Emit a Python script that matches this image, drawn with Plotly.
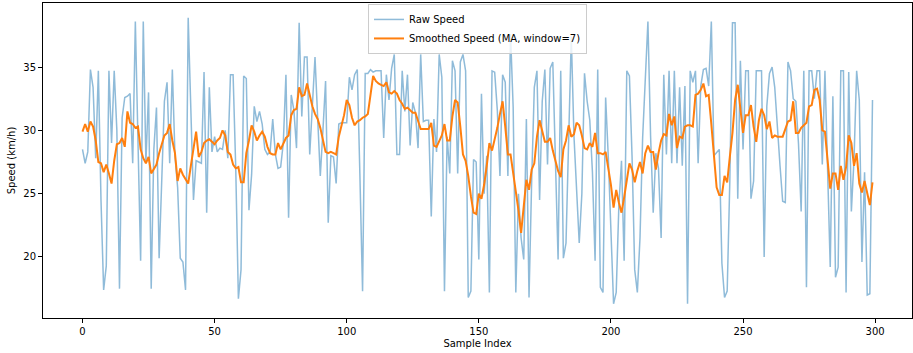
import plotly.graph_objects as go

# Raw speed samples (km/h)
raw_speed = [
    28.5, 27.4, 28.3, 34.8, 33.4, 27.8, 34.7, 24.5, 17.4, 19.3,
    34.7, 29.0, 34.7, 30.0, 17.5, 31.0, 32.6, 32.7, 32.9, 27.4,
    38.6, 28.0, 19.7, 38.6, 27.5, 33.0, 17.5, 28.5, 31.8, 19.9,
    27.0, 32.3, 33.8, 27.4, 34.8, 28.0, 25.5, 19.9, 19.6, 17.4,
    38.9, 31.0, 24.5, 27.6, 27.5, 27.4, 34.6, 23.5, 33.4, 28.3,
    29.5, 28.3, 28.6, 28.5, 30.0, 27.8, 34.4, 34.4, 27.0, 16.7,
    19.0, 34.3, 34.1, 23.7, 26.5, 31.9, 30.7, 31.5, 30.5, 28.5,
    28.1, 28.3, 30.9, 28.1, 27.0, 27.1, 29.0, 34.4, 23.1, 32.8,
    31.6, 28.6, 38.5, 31.1, 35.8, 35.8, 28.1, 32.5, 35.8, 31.0,
    26.4, 30.0, 33.9, 22.7, 28.0, 27.9, 25.8, 30.5, 30.6, 30.6,
    30.6, 34.2, 33.2, 34.4, 34.8, 26.4, 17.3, 34.5, 34.5, 34.8,
    34.6, 34.7, 34.7, 34.7, 29.4, 34.4, 32.4, 34.9, 36.0, 28.1,
    28.1, 34.7, 31.5, 34.4, 28.8, 32.2, 31.4, 28.6, 36.0, 30.7,
    30.8, 30.8, 23.2, 30.9, 28.3, 36.0, 34.2, 17.3, 29.5, 26.6,
    35.5, 34.7, 26.6, 35.4, 36.0, 34.7, 16.8, 17.3, 27.7, 27.5,
    19.8, 32.9, 25.0, 28.0, 17.2, 34.7, 34.6, 31.6, 26.4, 34.4,
    33.8, 26.4, 37.6, 31.8, 17.2, 25.0, 21.5, 19.8, 30.9, 16.8,
    26.0, 33.4, 34.7, 24.5, 32.3, 34.8, 27.3, 34.9, 35.4, 27.6,
    19.8, 34.7, 19.9, 21.1, 30.0, 37.4, 29.6, 25.8, 21.1, 25.0,
    34.5, 32.3, 30.8, 26.7, 19.7, 34.8, 17.6, 17.2, 32.6, 27.9,
    22.0, 16.3, 17.2, 24.0, 27.6, 19.7, 34.7, 34.3, 27.9, 19.0,
    17.2, 21.5, 29.4, 34.0, 38.6, 29.6, 23.5, 28.2, 27.0, 21.5,
    34.4, 28.1, 34.7, 27.4, 34.7, 27.4, 33.4, 27.2, 33.5, 16.3,
    34.7, 33.8, 34.7, 27.4, 33.5, 34.8, 34.9, 33.5, 38.6, 28.0,
    28.3, 28.5, 19.5, 16.8, 17.3, 26.0, 38.5, 38.5, 24.6, 35.5,
    28.5, 34.7, 34.7, 24.6, 26.0, 34.7, 34.7, 34.7, 20.0, 31.9,
    34.5, 35.0, 33.4, 29.8, 27.2, 24.4, 24.3, 35.4, 34.7, 32.5,
    32.3, 28.9, 23.6, 34.7, 17.6, 34.7, 34.7, 32.5, 34.7, 34.7,
    27.3, 34.7, 27.0, 19.2, 32.7, 18.4, 19.2, 34.7, 34.7, 17.2,
    34.6, 23.6, 27.7, 34.7, 32.4, 19.6, 26.7, 17.0, 17.1, 32.4,
]

# Smoothed speed (moving average, window 7)
smoothed_speed = [
    29.9, 30.5, 29.9, 30.7, 30.3, 29.2, 27.5, 27.4, 26.7, 27.3,
    26.6, 25.8, 27.6, 28.9, 29.0, 29.4, 28.7, 31.5, 30.6, 30.5,
    30.2, 30.3, 28.5, 27.8, 27.4, 27.9, 26.6, 27.0, 27.3, 28.2,
    29.0, 29.6, 29.8, 30.5, 29.2, 28.2, 26.0, 27.0, 26.5, 26.2,
    25.8, 27.2, 28.7, 29.9, 27.9, 28.3, 29.0, 29.2, 29.3, 29.1,
    28.9, 29.2, 29.4, 30.0, 29.6, 28.3, 28.1, 27.3, 27.0, 27.1,
    25.9, 25.9, 28.2, 29.2, 30.4, 29.9, 29.2, 29.6, 29.9, 29.5,
    28.7, 28.2, 28.1, 28.1, 29.0, 28.5, 29.0, 29.4, 29.6, 31.2,
    31.6, 31.7, 33.4, 32.7, 32.8, 33.7, 32.8, 31.9, 31.3, 30.9,
    30.2, 29.2, 28.3, 28.2, 28.3, 28.2, 28.1, 29.5, 30.3, 31.2,
    32.4, 32.0, 31.0, 30.4, 30.7, 30.8, 31.0, 31.1, 31.3, 32.8,
    34.3, 33.9, 33.7, 33.6, 33.5, 33.8, 33.0, 32.9, 33.1, 32.9,
    32.4, 32.1, 31.7, 31.8, 31.6, 31.4, 31.4, 30.8, 30.1, 30.1,
    30.1, 30.1, 30.6, 28.8, 28.7, 29.1, 29.6, 30.5, 29.2, 29.2,
    31.1, 32.4, 32.2, 30.3, 28.1, 27.6, 26.4, 24.8, 23.5, 23.4,
    25.0, 24.6, 25.7, 27.2, 29.0, 28.4, 29.2, 30.2, 31.3, 32.3,
    30.3, 28.1, 28.1, 26.6, 25.4, 23.7, 21.9, 24.3, 26.1, 25.3,
    26.9, 27.4, 29.5, 30.8, 29.9, 29.1, 29.1, 29.4, 28.4, 27.6,
    26.8, 26.3, 28.5, 29.2, 30.4, 29.5, 29.7, 30.6, 30.4, 29.6,
    28.6, 28.5, 29.0, 28.7, 29.8, 28.2, 28.2, 28.1, 28.3, 27.0,
    25.7, 23.9, 25.3, 24.3, 23.5, 24.7, 26.1, 27.4, 26.9, 25.9,
    26.8, 27.5, 26.6, 28.2, 28.8, 28.3, 28.3, 26.9, 28.2, 29.2,
    29.7, 29.6, 31.3, 30.4, 31.1, 28.6, 29.5, 29.4, 30.3, 30.4,
    30.4, 30.3, 32.8, 32.9, 33.2, 33.7, 32.7, 32.8, 30.5, 27.9,
    25.5, 24.9, 24.9, 26.4, 25.9, 27.9, 29.8, 32.4, 33.6, 31.7,
    29.8, 31.2, 31.2, 32.0, 30.3, 29.1, 30.8, 31.7, 31.2, 30.1,
    30.7, 29.4, 29.6, 29.5, 29.5, 29.5, 30.1, 30.7, 30.8, 32.3,
    29.8, 29.8, 30.2, 30.4, 30.6, 31.9, 32.0, 33.2, 33.3, 32.4,
    30.0, 29.9, 27.9, 25.4, 26.6, 26.6, 25.3, 27.2, 26.1, 27.1,
    29.6, 29.0, 27.2, 28.2, 25.8, 25.1, 26.0, 24.9, 24.1, 25.9,
]
sample_index = list(range(len(raw_speed)))
window = 7

x_ticks = [0, 50, 100, 150, 200, 250, 300]
y_ticks = [20, 25, 30, 35]
x_range = [-14.95, 313.95]
y_range = [15.18, 40.06]

font = "DejaVu Sans, Arial, sans-serif"

fig = go.Figure()
fig.add_trace(go.Scatter(
    x=sample_index, y=raw_speed, mode="lines", name="Raw Speed",
    line=dict(color="rgba(31,119,180,0.5)", width=1.5),
))
fig.add_trace(go.Scatter(
    x=sample_index, y=smoothed_speed, mode="lines",
    name=f"Smoothed Speed (MA, window={window})",
    line=dict(color="#ff7f0e", width=2),
))

axis_common = dict(
    showline=True, linecolor="black", linewidth=1, mirror=True,
    ticks="outside", ticklen=4, tickcolor="black", tickwidth=1,
    showgrid=False, zeroline=False, automargin=False,
    tickfont=dict(family=font, size=10, color="black"),
)
fig.update_layout(
    width=913, height=353,
    margin=dict(l=43, r=1, t=3, b=35, pad=0),
    paper_bgcolor="white", plot_bgcolor="white",
    font=dict(family=font, size=10, color="black"),
    xaxis=dict(range=x_range, tickvals=x_ticks,
               title=dict(text="Sample Index", font=dict(size=10), standoff=3),
               **axis_common),
    yaxis=dict(range=y_range, tickvals=y_ticks,
               title=dict(text="Speed (km/h)", font=dict(size=10), standoff=5),
               **axis_common),
    legend=dict(x=0.5, xanchor="center", y=0.997, yanchor="top",
                bgcolor="rgba(255,255,255,0.8)", bordercolor="#cccccc", borderwidth=1,
                font=dict(family=font, size=10), tracegroupgap=0),
    showlegend=True,
)

fig.write_html("out.html", config={"displayModeBar": False},
               post_script="document.body.style.margin='0';")
